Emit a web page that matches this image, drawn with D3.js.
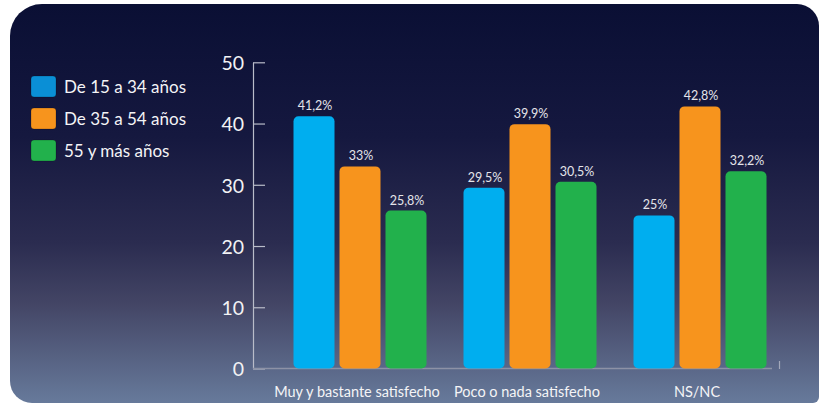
<!DOCTYPE html>
<html>
<head>
<meta charset="utf-8">
<script src="https://cdn.jsdelivr.net/npm/d3@7"></script>
<style>
  html, body { margin: 0; padding: 0; background: #ffffff; }
  svg { display: block; }
  text { font-family: Lato, "Open Sans", sans-serif; }
</style>
</head>
<body>
<svg id="chart" width="821" height="405"></svg>
<script>
// ---- data ----
const categories = ["Muy y bastante satisfecho", "Poco o nada satisfecho", "NS/NC"];
const seriesNames = ["De 15 a 34 años", "De 35 a 54 años", "55 y más años"];
const young  = [41.2, 29.5, 25];
const middle = [33, 39.9, 42.8];
const senior = [25.8, 30.5, 32.2];
const seriesValues = [young, middle, senior];
const yTicks = [0, 10, 20, 30, 40, 50];

// ---- styles ----
const barColors = ["#00aeef", "#f7941d", "#22b14c"];
const legendColors = ["#0a8fd6", "#f7941d", "#22b14c"];

const svg = d3.select("#chart");
const defs = svg.append("defs");
const grad = defs.append("linearGradient").attr("id", "bg").attr("x1", 0).attr("y1", 0).attr("x2", 0).attr("y2", 1);
[["0%", "#0a0f34"], ["33%", "#15183f"], ["60%", "#2b2c50"], ["75%", "#434565"], ["100%", "#677a9b"]]
  .forEach(([o, c]) => grad.append("stop").attr("offset", o).attr("stop-color", c));

// background panel with uneven rounded corners
const L = 10, T = 4, R = 819, B = 403, rTL = 32, rTR = 22, rBR = 6, rBL = 22;
svg.append("path")
  .attr("d", `M${L + rTL},${T} H${R - rTR} A${rTR},${rTR} 0 0 1 ${R},${T + rTR} V${B - rBR} A${rBR},${rBR} 0 0 1 ${R - rBR},${B} H${L + rBL} A${rBL},${rBL} 0 0 1 ${L},${B - rBL} V${T + rTL} A${rTL},${rTL} 0 0 1 ${L + rTL},${T} Z`)
  .attr("fill", "url(#bg)");

// ---- scales ----
const y = d3.scaleLinear().domain([0, 50]).range([368.5, 62.3]);
const x0 = d3.scaleBand().domain(categories).range([275, 785]).padding(0);
const x1 = d3.scaleBand().domain(seriesNames).range([-66.5, 66.5]).paddingInner(5 / 46).paddingOuter(0);

// ---- y axis ----
const yAxis = d3.axisLeft(y).tickValues(yTicks).tickSize(-12).tickSizeOuter(0).tickPadding(9);
const gy = svg.append("g").attr("transform", "translate(253,0)").call(yAxis);
gy.select(".domain").attr("stroke", "#b9bcc9").attr("stroke-width", 1.2);
gy.selectAll(".tick line").attr("stroke", "#b9bcc9").attr("stroke-width", 1.2);
gy.selectAll(".tick text")
  .attr("fill", "#f2f2f4")
  .attr("font-size", 19.5)
  .attr("dy", "0.38em");

// baseline
svg.append("line")
  .attr("x1", 253).attr("x2", 772)
  .attr("y1", y(0)).attr("y2", y(0))
  .attr("stroke", "#8d92a6").attr("stroke-width", 1.5);
svg.append("line")
  .attr("x1", 779.5).attr("x2", 779.5)
  .attr("y1", y(0) - 7.5).attr("y2", y(0) + 0.5)
  .attr("stroke", "#a3a8ba").attr("stroke-width", 1.2);

// ---- bars ----
const groups = svg.append("g").selectAll("g")
  .data(categories)
  .join("g")
  .attr("transform", d => `translate(${x0(d) + x0.bandwidth() / 2},0)`);

groups.each(function (cat, ci) {
  const g = d3.select(this);
  const rows = seriesNames.map((s, si) => ({ s, si, v: seriesValues[si][ci] }));
  g.selectAll("rect")
    .data(rows)
    .join("rect")
    .attr("x", d => x1(d.s))
    .attr("width", x1.bandwidth())
    .attr("y", d => y(d.v))
    .attr("height", d => y(0) - y(d.v))
    .attr("rx", 5).attr("ry", 5)
    .attr("fill", d => barColors[d.si]);
  g.selectAll("text.val")
    .data(rows)
    .join("text")
    .attr("class", "val")
    .attr("x", d => x1(d.s) + x1.bandwidth() / 2 + 1)
    .attr("y", d => y(d.v) - 6)
    .attr("text-anchor", "middle")
    .attr("font-size", 12.5)
    .attr("fill", "#e4e4ea")
    .text(d => String(d.v).replace(".", ",") + "%");
});

// category labels
svg.append("g").selectAll("text")
  .data(categories)
  .join("text")
  .attr("x", d => x0(d) + x0.bandwidth() / 2 - 3)
  .attr("y", 397)
  .attr("text-anchor", "middle")
  .attr("font-size", 14.5)
  .attr("fill", "#f4f4f6")
  .text(d => d);

// ---- legend ----
const lg = svg.append("g").selectAll("g")
  .data(seriesNames)
  .join("g")
  .attr("transform", (d, i) => `translate(31,${76 + i * 32})`);
lg.append("rect")
  .attr("width", 25).attr("height", 21)
  .attr("rx", 3).attr("ry", 3)
  .attr("fill", (d, i) => legendColors[i])
  .attr("stroke", "rgba(0,0,0,0.25)").attr("stroke-width", 0.8);
lg.append("text")
  .attr("x", 33).attr("y", 17)
  .attr("font-size", 17)
  .attr("fill", "#f4f4f6")
  .text(d => d);
</script>
</body>
</html>
